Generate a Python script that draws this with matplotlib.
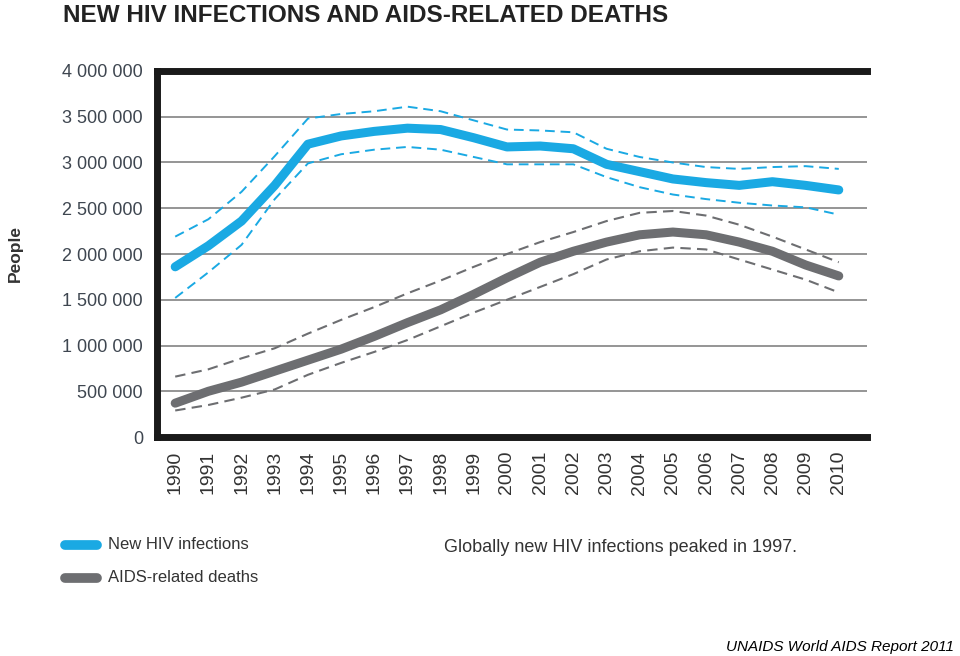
import matplotlib
matplotlib.use('Agg')
import matplotlib.pyplot as plt
from matplotlib.ticker import FuncFormatter

years = list(range(1990, 2011))

hiv_mid = [1.86, 2.09, 2.36, 2.75, 3.20, 3.29, 3.34, 3.375, 3.36, 3.27, 3.17,
           3.18, 3.15, 2.98, 2.90, 2.82, 2.78, 2.75, 2.79, 2.75, 2.70]
hiv_high = [2.19, 2.38, 2.68, 3.07, 3.48, 3.53, 3.56, 3.61, 3.56, 3.46, 3.36,
            3.35, 3.33, 3.15, 3.06, 3.00, 2.95, 2.93, 2.95, 2.96, 2.93]
hiv_low = [1.52, 1.80, 2.10, 2.60, 2.99, 3.09, 3.14, 3.17, 3.14, 3.06, 2.98,
           2.98, 2.98, 2.84, 2.73, 2.65, 2.60, 2.56, 2.53, 2.51, 2.43]

deaths_mid = [0.37, 0.50, 0.60, 0.72, 0.84, 0.96, 1.10, 1.25, 1.39, 1.56, 1.74,
              1.91, 2.03, 2.13, 2.21, 2.24, 2.21, 2.13, 2.03, 1.88, 1.76]
deaths_high = [0.66, 0.74, 0.86, 0.97, 1.13, 1.28, 1.42, 1.57, 1.71, 1.86, 2.00,
               2.13, 2.24, 2.36, 2.45, 2.47, 2.42, 2.32, 2.19, 2.05, 1.91]
deaths_low = [0.29, 0.35, 0.43, 0.52, 0.68, 0.81, 0.93, 1.06, 1.21, 1.36, 1.50,
              1.64, 1.78, 1.94, 2.03, 2.07, 2.05, 1.94, 1.83, 1.72, 1.58]

yticks = [0, 500000, 1000000, 1500000, 2000000, 2500000, 3000000, 3500000, 4000000]

blue = '#1aa9e3'
grey = '#6d6e71'

plt.rcParams['font.family'] = ['Liberation Sans', 'DejaVu Sans']

fig = plt.figure(figsize=(9.6, 6.56), dpi=100)
ax = fig.add_axes([0.1635, 0.3338, 0.7396, 0.558])

m = 1e6
ax.plot(years, [v * m for v in hiv_high], '--', color=blue, lw=1.4, dashes=(5, 3))
ax.plot(years, [v * m for v in hiv_low], '--', color=blue, lw=1.4, dashes=(5, 3))
ax.plot(years, [v * m for v in deaths_high], '--', color=grey, lw=1.5, dashes=(5, 3))
ax.plot(years, [v * m for v in deaths_low], '--', color=grey, lw=1.5, dashes=(5, 3))
ax.plot(years, [v * m for v in hiv_mid], color=blue, lw=6.5, solid_capstyle='round',
        solid_joinstyle='round')
ax.plot(years, [v * m for v in deaths_mid], color=grey, lw=6.5, solid_capstyle='round',
        solid_joinstyle='round')

ax.set_xlim(1989.45, 2010.85)
ax.set_ylim(0, 4000000)
ax.set_yticks(yticks)
ax.yaxis.set_major_formatter(FuncFormatter(lambda v, p: f'{int(v):,}'.replace(',', ' ')))
ax.set_xticks(years)
ax.set_xticklabels([str(y) for y in years], rotation=90)
ax.tick_params(length=0, labelsize=13, labelcolor='#3e4650')
ax.tick_params(axis='y', pad=10)
ax.tick_params(axis='x', pad=10, labelsize=14, labelcolor='#333333')
ax.grid(axis='y', color='#8c8c8c', lw=1.3)
ax.set_axisbelow(True)

for side in ['top', 'left', 'bottom']:
    ax.spines[side].set_linewidth(5)
    ax.spines[side].set_color('#1a1a1a')
ax.spines['right'].set_visible(False)

fig.text(0.016, 0.614, 'People', rotation=90, fontsize=12.5, fontweight='bold',
         color='#333333', ha='center', va='center')

fig.text(0.066, 0.977, 'NEW HIV INFECTIONS AND AIDS-RELATED DEATHS', fontsize=17.5,
         fontweight='bold', color='#222222', ha='left', va='center')

# legend
fig.add_artist(plt.Line2D([0.068, 0.101], [0.169, 0.169], color=blue, lw=7,
                          solid_capstyle='round'))
fig.add_artist(plt.Line2D([0.068, 0.101], [0.119, 0.119], color=grey, lw=7,
                          solid_capstyle='round'))
fig.text(0.113, 0.170, 'New HIV infections', fontsize=12, color='#333333', va='center')
fig.text(0.113, 0.119, 'AIDS-related deaths', fontsize=12, color='#333333', va='center')
fig.text(0.462, 0.165, 'Globally new HIV infections peaked in 1997.', fontsize=13,
         color='#333333', va='center')

fig.text(0.994, 0.003, 'UNAIDS World AIDS Report 2011', fontsize=11, style='italic',
         color='black', ha='right', va='bottom')

fig.savefig('out.png', dpi=100)
